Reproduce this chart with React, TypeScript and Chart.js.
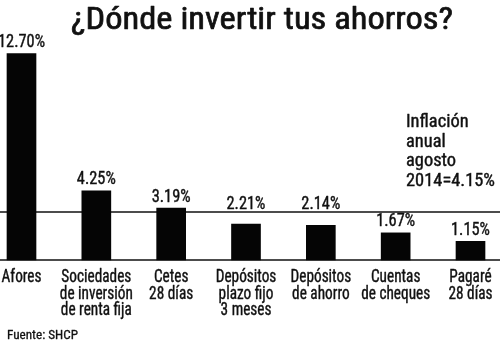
import React, { useEffect, useRef } from "react";
import { Chart, registerables } from "chart.js";

Chart.register(...registerables);

// ---- data ----
const categories: string[][] = [
  ["Afores"],
  ["Sociedades", "de inversión", "de renta fija"],
  ["Cetes", "28 días"],
  ["Depósitos", "plazo fijo", "3 meses"],
  ["Depósitos", "de ahorro"],
  ["Cuentas", "de cheques"],
  ["Pagaré", "28 días"],
];
const rates: number[] = [12.7, 4.25, 3.19, 2.21, 2.14, 1.67, 1.15];
const rateLabels: string[] = ["12.70%", "4.25%", "3.19%", "2.21%", "2.14%", "1.67%", "1.15%"];
// level at which the reference draws its inflation rule (on the bars' scale)
const inflationLineLevel = 2.95;
const inflationNote: string[] = ["Inflación", "anual", "agosto", "2014=4.15%"];
const titleText = "¿Dónde invertir tus ahorros?";
const sourceText = "Fuente: SHCP";

const FONT = '"Roboto Condensed", "Open Sans Condensed", sans-serif';
const WEIGHT = "normal";

// draw text horizontally condensed so that `sample` would measure `sampleWidth`
function condensedText(
  ctx: CanvasRenderingContext2D,
  text: string,
  x: number,
  y: number,
  size: number,
  align: CanvasTextAlign,
  sample: string,
  sampleWidth: number
) {
  ctx.font = `${WEIGHT} ${size}px ${FONT}`;
  const sx = sampleWidth / ctx.measureText(sample).width;
  ctx.save();
  ctx.translate(x, y);
  ctx.scale(sx, 1);
  ctx.textAlign = align;
  ctx.fillText(text, 0, 0);
  // a little extra ink to mimic the medium-weight print face
  ctx.strokeStyle = ctx.fillStyle as string;
  ctx.lineWidth = size * 0.022;
  ctx.lineJoin = "round";
  ctx.strokeText(text, 0, 0);
  ctx.restore();
}

const overlay = {
  id: "overlay",
  beforeDatasetsDraw(chart: any) {
    const { ctx, scales } = chart;
    const y = scales.y;
    ctx.save();
    ctx.strokeStyle = "#111";
    ctx.lineWidth = 1.6;
    [0, inflationLineLevel].forEach((v) => {
      const py = y.getPixelForValue(v);
      ctx.beginPath();
      ctx.moveTo(0, py);
      ctx.lineTo(chart.width, py);
      ctx.stroke();
    });
    ctx.restore();
  },
  afterDatasetsDraw(chart: any) {
    const { ctx, scales } = chart;
    const x = scales.x;
    const lineY = scales.y.getPixelForValue(inflationLineLevel);
    const meta = chart.getDatasetMeta(0);
    ctx.save();
    ctx.fillStyle = "#111";
    ctx.textBaseline = "alphabetic";

    // value labels (lifted above the inflation rule when they would cross it)
    const capH = 13;
    meta.data.forEach((bar: any, i: number) => {
      let by = bar.y - 6.5;
      if (bar.y > lineY && by - capH < lineY + 1) by = Math.min(by, lineY - 3.5);
      condensedText(ctx, rateLabels[i], bar.x, by, 18.5, "center", "12.70%", 47);
    });

    // category labels
    categories.forEach((lines, i) => {
      const px = x.getPixelForValue(i);
      lines.forEach((line, j) => {
        condensedText(ctx, line, px, 282 + j * 16.6, 17.5, "center", "Sociedades", 70);
      });
    });

    // inflation note
    inflationNote.forEach((line, j) => {
      condensedText(ctx, line, 406, 127 + j * 19.5, 17.5, "left", "2014=4.15%", 89);
    });

    // title
    condensedText(ctx, titleText, 262, 29, 31, "center", titleText, 382);

    // source
    condensedText(ctx, sourceText, 7, 339, 13.5, "left", sourceText, 71);
    ctx.restore();
  },
};

export default function App() {
  const ref = useRef<HTMLCanvasElement>(null);
  useEffect(() => {
    document.body.style.margin = "0";
    let chart: Chart | null = null;
    let cancelled = false;
    const make = () => {
      if (cancelled || !ref.current) return;
      chart = new Chart(ref.current, {
        type: "bar",
        data: {
          labels: categories.map((c) => c.join(" ")),
          datasets: [
            {
              data: rates,
              backgroundColor: "#050505",
              borderWidth: 0,
              barThickness: 29,
              clip: false as any,
            },
          ],
        },
        options: {
          responsive: false,
          devicePixelRatio: 1,
          animation: false,
          layout: { padding: { left: 21.5, right: 29.5, top: 48.75, bottom: 81 } },
          scales: {
            x: { type: "category", offset: false, display: false },
            y: { min: 0, max: 13, display: false },
          },
          plugins: {
            legend: { display: false },
            tooltip: { enabled: false },
            title: { display: false },
          },
        },
        plugins: [overlay],
      });
    };
    const fonts = (document as any).fonts;
    fonts ? fonts.load(`${WEIGHT} 18px ${FONT}`).then(make, make) : make();
    return () => {
      cancelled = true;
      if (chart) chart.destroy();
    };
  }, []);
  return (
    <canvas
      ref={ref}
      width={500}
      height={341}
      style={{ display: "block", background: "#fff" }}
    />
  );
}
